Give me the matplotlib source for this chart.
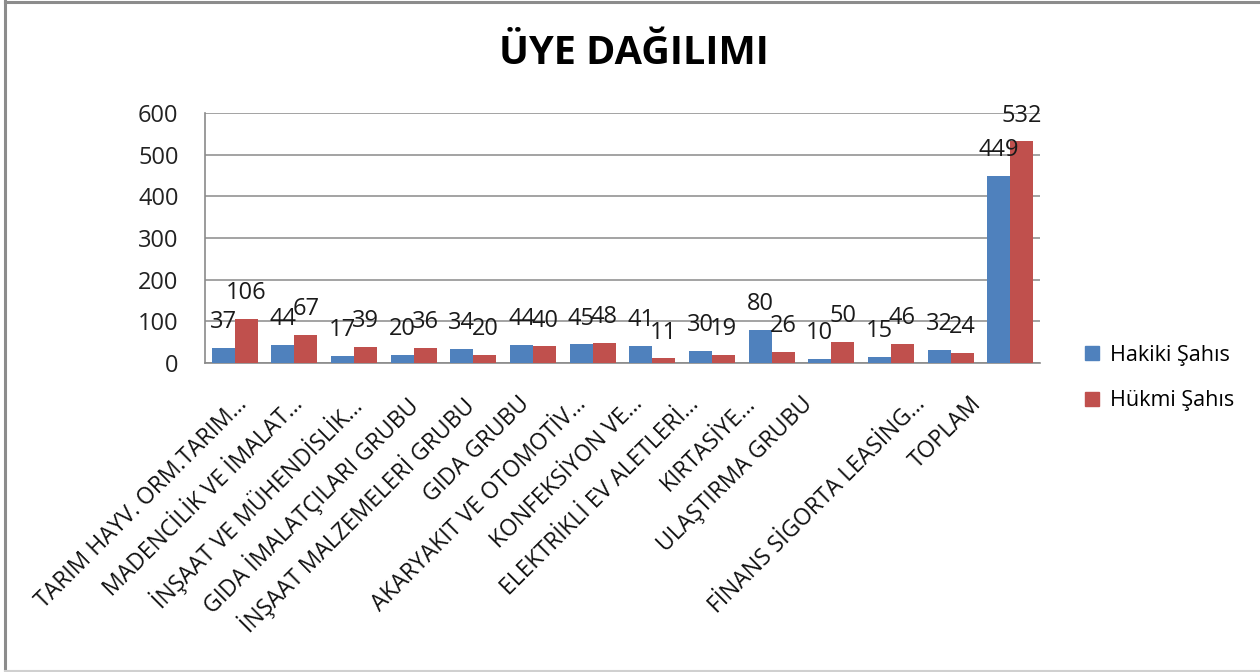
import numpy as np
import matplotlib.pyplot as plt
from matplotlib.lines import Line2D
from matplotlib.patches import Patch
import matplotlib.transforms as mtransforms

plt.rcParams['font.family'] = ['Open Sans', 'DejaVu Sans']

categories = [
    "TARIM HAYV. ORM.TARIM...",
    "MADENCİLİK VE İMALAT...",
    "İNŞAAT VE MÜHENDİSLİK...",
    "GIDA İMALATÇILARI GRUBU",
    "İNŞAAT MALZEMELERİ GRUBU",
    "GIDA GRUBU",
    "AKARYAKIT VE OTOMOTİV...",
    "KONFEKSİYON VE...",
    "ELEKTRİKLİ EV ALETLERİ...",
    "KIRTASİYE...",
    "ULAŞTIRMA GRUBU",
    "",
    "FİNANS SİGORTA LEASİNG...",
    "TOPLAM",
]
hakiki = [37, 44, 17, 20, 34, 44, 45, 41, 30, 80, 10, 15, 32, 449]
hukmi = [106, 67, 39, 36, 20, 40, 48, 11, 19, 26, 50, 46, 24, 532]
series_names = ["Hakiki Şahıs", "Hükmi Şahıs"]
colors = ["#4F81BD", "#C0504D"]
yticks = [0, 100, 200, 300, 400, 500, 600]

fig = plt.figure(figsize=(12.6, 6.72), dpi=100)
ax = fig.add_axes([205/1260, 1-363/672, 835/1260, 250/672])

x = np.arange(len(categories))
w = 0.386
b1 = ax.bar(x - w/2, hakiki, w, color=colors[0], zorder=3)
b2 = ax.bar(x + w/2, hukmi, w, color=colors[1], zorder=3)

# value labels sit ~26px above bar tops
for bars, vals in [(b1, hakiki), (b2, hukmi)]:
    for rect, v in zip(bars, vals):
        ax.annotate(str(v), (rect.get_x() + rect.get_width()/2, v),
                    xytext=(0, 18.5), textcoords='offset points',
                    ha='center', va='center', fontsize=17, color='#1a1a1a', zorder=4)

ax.set_xlim(-0.5, len(categories) - 0.5)
ax.set_ylim(0, 600)
ax.set_yticks(yticks)
ax.set_yticklabels([str(t) for t in yticks], fontsize=17, color='#222222')
ax.yaxis.grid(True, color='#8a8a8a', linewidth=1.1, zorder=0)
ax.set_axisbelow(True)
ax.tick_params(axis='both', length=0)
ax.tick_params(axis='y', pad=19)

ax.set_xticks(x)
ax.set_xticklabels(categories, rotation=45, ha='right', va='top',
                   rotation_mode='anchor', fontsize=16.5, color='#111111')
ax.tick_params(axis='x', pad=21)
# excel packs the rotated labels a little tighter than the bars
for i, lbl in enumerate(ax.get_xticklabels()):
    dx = (0 - 3.1 * i) / 100
    lbl.set_transform(lbl.get_transform() + mtransforms.ScaledTranslation(dx, 0, fig.dpi_scale_trans))

for s in ['top', 'right']:
    ax.spines[s].set_visible(False)
for s in ['left', 'bottom']:
    ax.spines[s].set_color('#8a8a8a')
    ax.spines[s].set_linewidth(1.2)

fig.text(634/1260, 1-53/672, "ÜYE DAĞILIMI", ha='center', va='center',
         fontsize=28.5, fontweight='bold', color='black')

handles = [Patch(facecolor=c, edgecolor=c) for c in colors]
fig.legend(handles, series_names, loc='center left',
           bbox_to_anchor=(1066/1260, 1-378/672), frameon=False,
           fontsize=15.5, handlelength=0.65, handleheight=0.65,
           handletextpad=0.5, labelspacing=1.15)

# outer chart frame
fig.add_artist(Line2D([5/1260, 5/1260], [0, 1], transform=fig.transFigure,
                      color='#8c8c8c', linewidth=2.2))
fig.add_artist(Line2D([5/1260, 1], [1 - 1.5/672, 1 - 1.5/672], transform=fig.transFigure,
                      color='#8c8c8c', linewidth=2.2))
fig.add_artist(Line2D([5/1260, 1], [1/672, 1/672], transform=fig.transFigure,
                      color='#d0d0d0', linewidth=1.5))

fig.savefig("out.png", dpi=100, facecolor='white')
